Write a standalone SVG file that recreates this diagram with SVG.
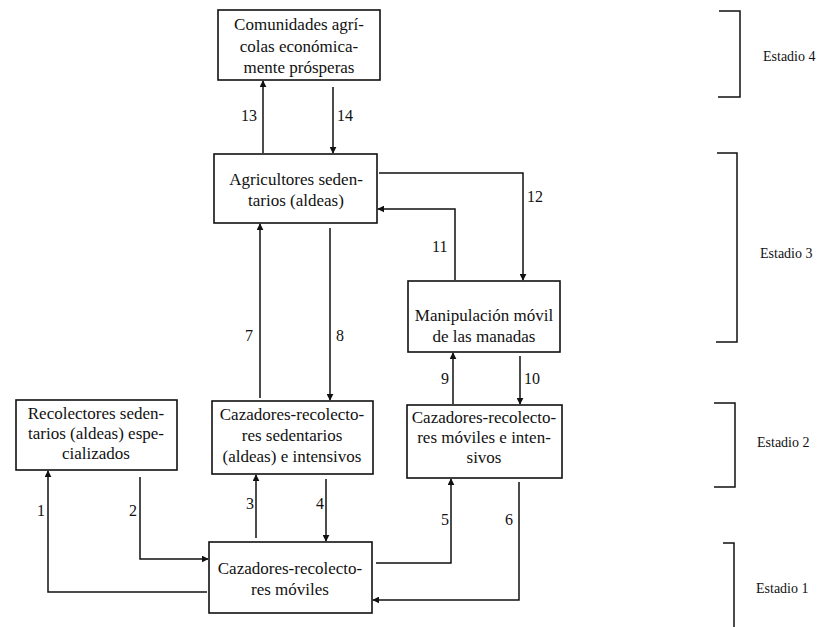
<svg xmlns="http://www.w3.org/2000/svg" width="831" height="627" viewBox="0 0 831 627">
<style>
.box{fill:#fff;stroke:#111;stroke-width:1.6}
.t{font-family:'Liberation Serif','Times New Roman',serif;font-size:17px;fill:#111;text-anchor:middle}
.n{font-family:'Liberation Serif','Times New Roman',serif;font-size:16px;fill:#111}
.s{font-family:'Liberation Serif','Times New Roman',serif;font-size:14px;fill:#111}
.c{fill:none;stroke:#111;stroke-width:1.5}
.br{fill:none;stroke:#111;stroke-width:1.5}
</style>
<defs>
<marker id="ah" viewBox="0 0 10 10" refX="9" refY="5" markerWidth="7" markerHeight="7" markerUnits="userSpaceOnUse" orient="auto">
<path d="M0,0 L10,5 L0,10 Z" fill="#111"/>
</marker>
</defs>
<rect width="831" height="627" fill="#fff"/>

<g id="comunidades">
<rect class="box" x="218" y="10" width="162" height="70"/>
<text class="t" x="299" y="30">Comunidades agrí-</text>
<text class="t" x="299" y="52">colas económica-</text>
<text class="t" x="299" y="73">mente prósperas</text>
</g>

<g id="agricultores">
<rect class="box" x="214" y="154" width="163" height="69"/>
<text class="t" x="296" y="185">Agricultores seden-</text>
<text class="t" x="296" y="206">tarios (aldeas)</text>
</g>

<g id="manipulacion">
<rect class="box" x="408" y="281" width="152" height="71"/>
<text class="t" x="484" y="321">Manipulación móvil</text>
<text class="t" x="484" y="342">de las manadas</text>
</g>

<g id="recolectores">
<rect class="box" x="16" y="400" width="161" height="70"/>
<text class="t" x="96" y="419">Recolectores seden-</text>
<text class="t" x="96" y="439">tarios (aldeas) espe-</text>
<text class="t" x="96" y="459">cializados</text>
</g>

<g id="cazadores-sedentarios">
<rect class="box" x="212" y="401" width="161" height="73"/>
<text class="t" x="292" y="420">Cazadores-recolecto-</text>
<text class="t" x="292" y="441">res sedentarios</text>
<text class="t" x="292" y="462">(aldeas) e intensivos</text>
</g>

<g id="cazadores-moviles-intensivos">
<rect class="box" x="407" y="405" width="155" height="73"/>
<text class="t" x="484" y="423">Cazadores-recolecto-</text>
<text class="t" x="484" y="443">res móviles e inten-</text>
<text class="t" x="484" y="463">sivos</text>
</g>

<g id="cazadores-moviles">
<rect class="box" x="209" y="542" width="163" height="71"/>
<text class="t" x="290" y="574">Cazadores-recolecto-</text>
<text class="t" x="290" y="595">res móviles</text>
</g>

<g id="connectors">
<path class="c" marker-end="url(#ah)" d="M263 153 V81"/>
<path class="c" marker-end="url(#ah)" d="M333 87 V153"/>
<path class="c" marker-end="url(#ah)" d="M379 173 H523 V280"/>
<path class="c" marker-end="url(#ah)" d="M455 280 V209 H378"/>
<path class="c" marker-end="url(#ah)" d="M260 398 V224"/>
<path class="c" marker-end="url(#ah)" d="M330 228 V400"/>
<path class="c" marker-end="url(#ah)" d="M453 404 V353"/>
<path class="c" marker-end="url(#ah)" d="M520 356 V404"/>
<path class="c" marker-end="url(#ah)" d="M256 538 V475"/>
<path class="c" marker-end="url(#ah)" d="M326 479 V541"/>
<path class="c" marker-end="url(#ah)" d="M376 563 H451 V479"/>
<path class="c" marker-end="url(#ah)" d="M519 482 V600 H373"/>
<path class="c" marker-end="url(#ah)" d="M207 592 H48 V471"/>
<path class="c" marker-end="url(#ah)" d="M140 477 V559 H208"/>
</g>

<g id="labels">
<text class="n" x="241" y="121">13</text>
<text class="n" x="337" y="121">14</text>
<text class="n" x="527" y="202">12</text>
<text class="n" x="432" y="252">11</text>
<text class="n" x="245" y="341">7</text>
<text class="n" x="336" y="341">8</text>
<text class="n" x="441" y="384">9</text>
<text class="n" x="524" y="384">10</text>
<text class="n" x="246" y="509">3</text>
<text class="n" x="316" y="509">4</text>
<text class="n" x="441" y="525">5</text>
<text class="n" x="505" y="525">6</text>
<text class="n" x="37" y="516">1</text>
<text class="n" x="129" y="516">2</text>
</g>

<g id="estadios">
<path class="br" d="M719 11 H740 V97 H718"/>
<text class="s" x="763" y="61">Estadio 4</text>
<path class="br" d="M717 153 H737 V342 H716"/>
<text class="s" x="760" y="258">Estadio 3</text>
<path class="br" d="M714 403 H735 V487 H714"/>
<text class="s" x="757" y="447">Estadio 2</text>
<path class="br" d="M723 543 H734 V627"/>
<text class="s" x="756" y="593">Estadio 1</text>
</g>
</svg>
